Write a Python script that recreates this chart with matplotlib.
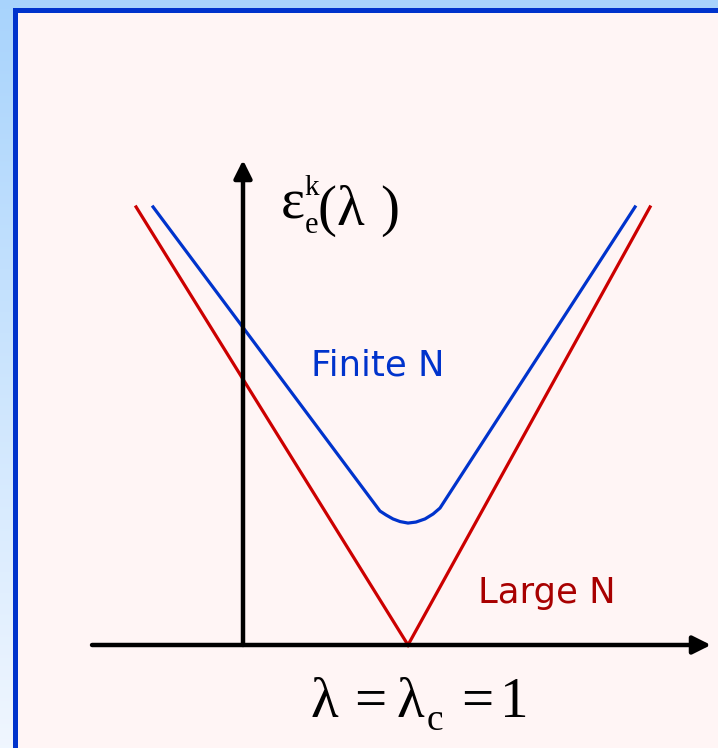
import numpy as np
import matplotlib
matplotlib.use("Agg")
import matplotlib.pyplot as plt
from matplotlib.patches import Rectangle

# gap energy vs coupling: large-N limit closes at lambda_c = 1, finite N stays open
lam_large = [-0.648, 1.0, 2.467]
eps_large = [2.655, 0.0, 2.655]

lam_finite = [-0.545, 0.830, 0.867, 0.909, 0.952, 1.000, 1.048, 1.103, 1.152, 1.194, 2.376]
eps_finite = [2.655, 0.812, 0.788, 0.764, 0.748, 0.739, 0.745, 0.764, 0.794, 0.830, 2.655]

W, H = 718, 748
SERIF = 'Liberation Serif'
fig = plt.figure(figsize=(W / 100, H / 100), dpi=100)

# slide frame: light-blue gradient behind a pale pink panel with a blue edge
bg = fig.add_axes([0, 0, 1, 1])
grad = np.linspace(0, 1, 256).reshape(-1, 1)
top = np.array([0.66, 0.83, 0.99])
bot = np.array([0.94, 0.965, 1.0])
img = top + grad[..., None] * (bot - top)
bg.imshow(img, extent=[0, W, H, 0], aspect='auto')
bg.add_patch(Rectangle((13, 8), W, H, facecolor='#0033cc', edgecolor='none'))
bg.add_patch(Rectangle((17.5, 12.5), W, H, facecolor='#fff5f5', edgecolor='none'))
bg.set_xlim(0, W)
bg.set_ylim(H, 0)
bg.axis('off')

ax = fig.add_axes([0, 0, 1, 1])
ax.patch.set_alpha(0)
ax.set_xlim(-243 / 165, (W - 243) / 165)
ax.set_ylim(-(H - 645) / 165, 645 / 165)
ax.axis('off')

arrow = dict(arrowstyle='-|>,head_length=0.4,head_width=0.2', lw=3.2,
             color='black', mutation_scale=27, shrinkA=0, shrinkB=0)
ax.annotate('', xy=(2.836, 0), xytext=(-0.915, 0), arrowprops=arrow)
ax.annotate('', xy=(0, 2.939), xytext=(0, 0), arrowprops=arrow)

ax.plot(lam_large, eps_large, color='#cc0000', lw=2.3, solid_joinstyle='miter')
ax.plot(lam_finite, eps_finite, color='#0033cc', lw=2.3, solid_joinstyle='round')

ax.text(0.818, 1.636, 'Finite N', color='#0033cc', fontsize=25.5,
        family='DejaVu Sans', ha='center', va='baseline')
ax.text(1.84, 0.255, 'Large N', color='#a80000', fontsize=25.5,
        family='DejaVu Sans', ha='center', va='baseline')


def glyph(x, y, s, size):
    # x, y in pixels from the top-left corner, y is the baseline
    bg.text(x, y, s, fontsize=size, family=SERIF, ha='left', va='baseline')


# y-axis label  eps_e^k(lambda)
glyph(281, 218, 'ε', 41)
glyph(304, 195, 'k', 21)
glyph(305, 233, 'e', 22)
glyph(317, 225, '(', 41)
glyph(336, 225, 'λ', 41)
glyph(380, 225, ')', 41)

# x-axis label  lambda = lambda_c = 1
glyph(310, 717, 'λ', 41)
glyph(354, 717, '=', 41)
glyph(397, 717, 'λ', 41)
glyph(427, 730, 'c', 27)
glyph(461, 717, '=', 41)
glyph(500, 717, '1', 41)

fig.savefig('out.png', dpi=100)
